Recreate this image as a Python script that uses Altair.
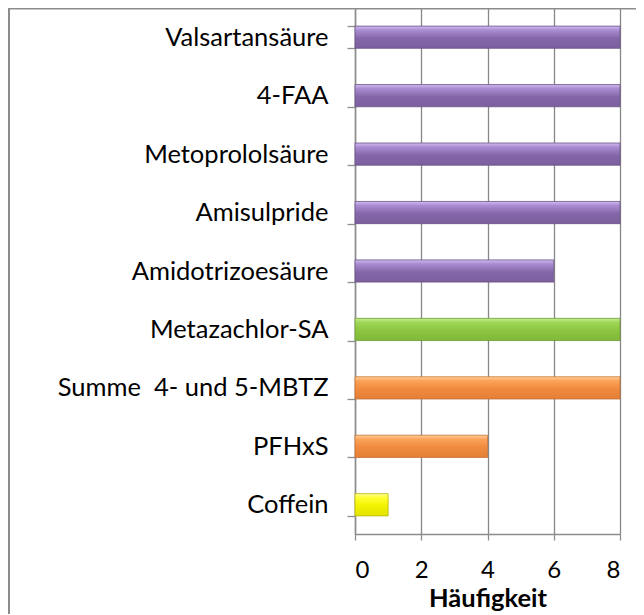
import altair as alt
import pandas as pd

# ---- data ----
categories = ["Valsartansäure", "4-FAA", "Metoprololsäure", "Amisulpride",
              "Amidotrizoesäure", "Metazachlor-SA", "Summe\u00a0 4- und 5-MBTZ",
              "PFHxS", "Coffein"]
values = [8, 8, 8, 8, 6, 8, 8, 4, 1]
groups = ["lila", "lila", "lila", "lila", "lila", "gruen", "orange", "orange", "gelb"]
x_ticks = [0, 2, 4, 6, 8]

# gradient stops per colour group (top -> bottom) and outline colour
palette = {
    "lila":   (["#d2bdf0", "#a98cd2", "#8466a8", "#7b5f9d"], "#6a5088"),
    "gruen":  (["#c4f08e", "#9fd65a", "#8cc63f", "#80b83a"], "#6f9a34"),
    "orange": (["#ffd29a", "#fba35a", "#f08a3e", "#e47f38"], "#c86f30"),
    "gelb":   (["#ffff9a", "#ffff33", "#f2f200", "#e2e200"], "#b8b800"),
}

df = pd.DataFrame({"kategorie": categories, "wert": values, "gruppe": groups})

FONT = "Lato"

base = alt.Chart(df).encode(
    y=alt.Y("kategorie:N", sort=categories, title=None,
            scale=alt.Scale(paddingInner=0.62, paddingOuter=0.31),
            axis=alt.Axis(labelFont=FONT, labelFontSize=25.5, labelColor="black",
                          labelPadding=19, labelLimit=400, tickBand="extent", tickSize=8,
                          tickColor="#8c8c8c", tickWidth=1.3,
                          domainColor="#8c8c8c", domainWidth=1.5, grid=False)),
    x=alt.X("wert:Q", title="Häufigkeit",
            scale=alt.Scale(domain=[0, 8], nice=False),
            axis=alt.Axis(values=x_ticks, labelFont=FONT, labelFontSize=24,
                          labelColor="black", labelPadding=18, tickSize=6,
                          tickColor="#8c8c8c", tickWidth=1.3,
                          domainColor="#8c8c8c", domainWidth=1.5,
                          grid=True, gridColor="#878787", gridWidth=1.3,
                          titleFont=FONT, titleFontSize=25.5, titleFontWeight="bold",
                          titleColor="black", titlePadding=4)),
)

layers = []
for g, (stops, edge) in palette.items():
    grad = alt.Gradient(
        gradient="linear",
        stops=[alt.GradientStop(color=stops[0], offset=0),
               alt.GradientStop(color=stops[1], offset=0.18),
               alt.GradientStop(color=stops[2], offset=0.55),
               alt.GradientStop(color=stops[3], offset=1)],
        x1=0, x2=0, y1=0, y2=1)
    layers.append(
        base.transform_filter(alt.datum.gruppe == g)
        .mark_bar(color=grad, stroke=edge, strokeWidth=0.8, cornerRadius=0)
    )

frame_df = pd.DataFrame({"f": [0]})
frame_top = alt.Chart(frame_df).mark_rule(color="#8c8c8c", strokeWidth=2).encode(
    x=alt.value(-347), x2=alt.value(300), y=alt.value(0.5))
frame_left = alt.Chart(frame_df).mark_rule(color="#8c8c8c", strokeWidth=2).encode(
    x=alt.value(-346), y=alt.value(0), y2=alt.value(640))

chart = alt.layer(*layers, frame_top, frame_left).properties(
    width=265, height=526,
    padding={"left": 347, "top": 0, "right": 16, "bottom": 80},
    autosize=alt.AutoSizeParams(type="none"),
).configure_view(stroke=None).configure(background="white")

chart.save("out.html", embed_options={"renderer": "svg", "actions": False})
